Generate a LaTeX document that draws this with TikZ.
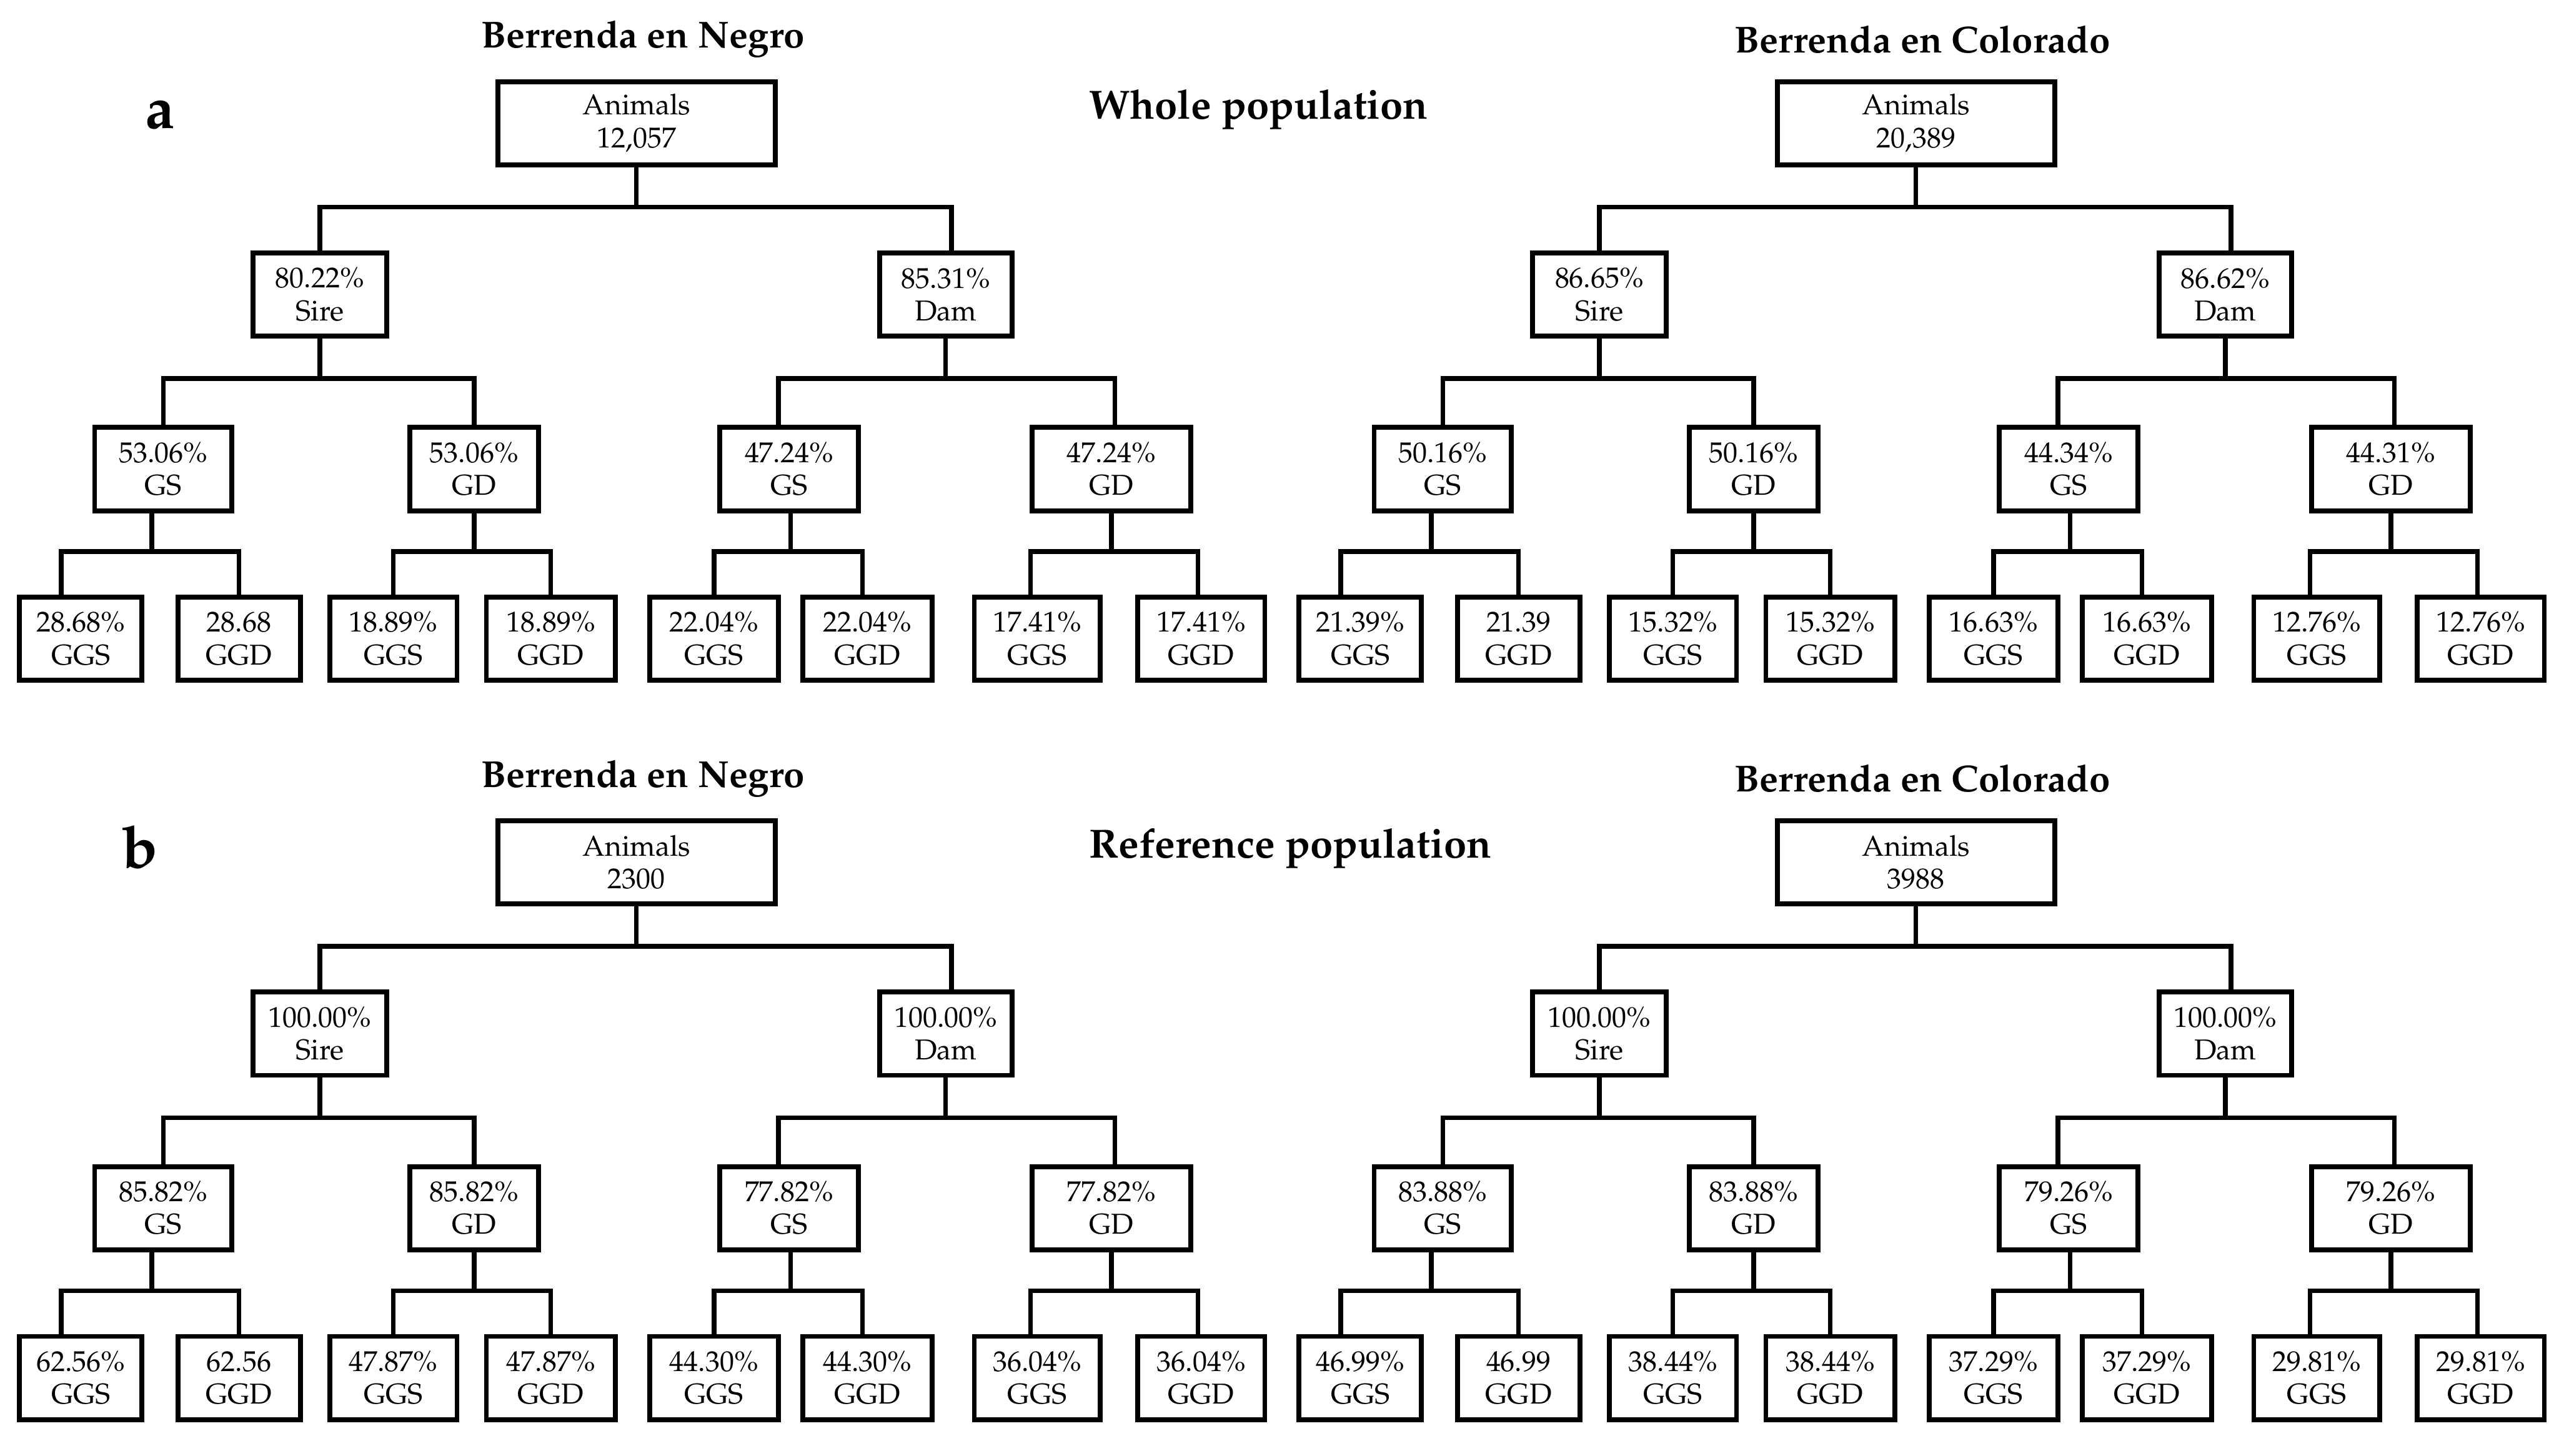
\documentclass[tikz,border=0pt]{standalone}
\usepackage[T1]{fontenc}
\usepackage{mathpazo}
\tikzset{
  bx/.style={draw,line width=1.5pt,minimum height=25.5pt,inner sep=0pt,align=center,
    font=\fontsize{8.8}{10}\selectfont},
  cn/.style={line width=1.4pt},
  ttl/.style={font=\fontsize{11.5}{13}\selectfont\bfseries},
  pop/.style={font=\fontsize{12.5}{14}\selectfont\bfseries,anchor=west,inner sep=0pt},
  panel/.style={font=\fontsize{18}{20}\selectfont\bfseries,inner sep=0pt}
}
\newcommand\mktree[3]{%
\begin{scope}[shift={(#2,#3)}]
  \node[bx,minimum width=85pt]   (#1r)  at (390,75.5)   {Animals\\\Lr};
  \node[bx,minimum width=41pt]   (#1s)  at (196,180.5)  {\Ls\\Sire};
  \node[bx,minimum width=40.5pt] (#1d)  at (579.5,180.5){\Ld\\Dam};
  \node[bx,minimum width=42pt]   (#1ss) at (100,287.5)  {\Lss\\GS};
  \node[bx,minimum width=39.5pt] (#1sd) at (290.5,287.5){\Lsd\\GD};
  \node[bx,minimum width=42.5pt] (#1ds) at (483.5,287.5){\Lds\\GS};
  \node[bx,minimum width=48.5pt] (#1dd) at (681,287.5)  {\Ldd\\GD};
  \node[bx,minimum width=37.5pt] (#1l1) at (49.5,391.5) {\La\\GGS};
  \node[bx,minimum width=37.5pt] (#1l2) at (146.5,391.5){\Lb\\GGD};
  \node[bx,minimum width=39pt]   (#1l3) at (241,391.5)  {\Lc\\GGS};
  \node[bx,minimum width=39.5pt] (#1l4) at (337.5,391.5){\Lx\\GGD};
  \node[bx,minimum width=39.5pt] (#1l5) at (437.5,391.5){\Le\\GGS};
  \node[bx,minimum width=39.5pt] (#1l6) at (531.5,391.5){\Lf\\GGD};
  \node[bx,minimum width=38.5pt] (#1l7) at (635.5,391.5){\Lg\\GGS};
  \node[bx,minimum width=39pt]   (#1l8) at (736,391.5)  {\Lh\\GGD};
  % buses
  \coordinate (#1b1)  at (390,127);
  \coordinate (#1b2s) at (196,232);
  \coordinate (#1b2d) at (579.5,232);
  \coordinate (#1b3a) at (93,338);
  \coordinate (#1b3b) at (290.5,338);
  \coordinate (#1b3c) at (484.5,338);
  \coordinate (#1b3d) at (681,338);
  \draw[cn] (#1r.south) -- (#1b1);
  \draw[cn] (#1s.north) |- (#1b1) -| ([xshift=1.75pt]#1d.north);
  \draw[cn] (#1s.south) -- (#1b2s);
  \draw[cn] (#1ss.north) |- (#1b2s) -| (#1sd.north);
  \draw[cn] (#1d.south) -- (#1b2d);
  \draw[cn] ([xshift=-3.25pt]#1ds.north) |- (#1b2d) -| ([xshift=1pt]#1dd.north);
  \draw[cn] ([xshift=-3.5pt]#1ss.south) -- (#1b3a);
  \draw[cn] ([xshift=-6pt]#1l1.north) |- (#1b3a) -| (#1l2.north);
  \draw[cn] (#1sd.south) -- (#1b3b);
  \draw[cn] (#1l3.north) |- (#1b3b) -| (#1l4.north);
  \draw[cn] ([xshift=0.5pt]#1ds.south) -- (#1b3c);
  \draw[cn] (#1l5.north) |- (#1b3c) -| ([xshift=-1.5pt]#1l6.north);
  \draw[cn] (#1dd.south) -- (#1b3d);
  \draw[cn] ([xshift=-2pt]#1l7.north) |- (#1b3d) -| ([xshift=-1pt]#1l8.north);
\end{scope}}
\begin{document}
\begin{tikzpicture}[x=0.5pt,y=-0.5pt]
\useasboundingbox (0,0) rectangle (1568,892);
% panel a
\node[ttl] (tna) at (394,24) {Berrenda en Negro};
\node[ttl] (tca) at (1178,24) {Berrenda en Colorado};
\node[panel] (pa) at (98,70) {a};
\node[pop] (wp) at (667,67) {Whole population};
\def\Lr{12,057}\def\Ls{80.22\%}\def\Ld{85.31\%}
\def\Lss{53.06\%}\def\Lsd{53.06\%}\def\Lds{47.24\%}\def\Ldd{47.24\%}
\def\La{28.68\%}\def\Lb{28.68}\def\Lc{18.89\%}\def\Lx{18.89\%}
\def\Le{22.04\%}\def\Lf{22.04\%}\def\Lg{17.41\%}\def\Lh{17.41\%}
\mktree{an}{0}{0}
\def\Lr{20,389}\def\Ls{86.65\%}\def\Ld{86.62\%}
\def\Lss{50.16\%}\def\Lsd{50.16\%}\def\Lds{44.34\%}\def\Ldd{44.31\%}
\def\La{21.39\%}\def\Lb{21.39}\def\Lc{15.32\%}\def\Lx{15.32\%}
\def\Le{16.63\%}\def\Lf{16.63\%}\def\Lg{12.76\%}\def\Lh{12.76\%}
\mktree{ac}{784}{0}
% panel b
\node[ttl] (tnb) at (394,477) {Berrenda en Negro};
\node[ttl] (tcb) at (1178,477) {Berrenda en Colorado};
\node[panel] (pb) at (86,519) {b};
\node[pop] (rp) at (667,520) {Reference population};
\def\Lr{2300}\def\Ls{100.00\%}\def\Ld{100.00\%}
\def\Lss{85.82\%}\def\Lsd{85.82\%}\def\Lds{77.82\%}\def\Ldd{77.82\%}
\def\La{62.56\%}\def\Lb{62.56}\def\Lc{47.87\%}\def\Lx{47.87\%}
\def\Le{44.30\%}\def\Lf{44.30\%}\def\Lg{36.04\%}\def\Lh{36.04\%}
\mktree{bn}{0}{453}
\def\Lr{3988}\def\Ls{100.00\%}\def\Ld{100.00\%}
\def\Lss{83.88\%}\def\Lsd{83.88\%}\def\Lds{79.26\%}\def\Ldd{79.26\%}
\def\La{46.99\%}\def\Lb{46.99}\def\Lc{38.44\%}\def\Lx{38.44\%}
\def\Le{37.29\%}\def\Lf{37.29\%}\def\Lg{29.81\%}\def\Lh{29.81\%}
\mktree{bc}{784}{453}
\end{tikzpicture}
\end{document}
